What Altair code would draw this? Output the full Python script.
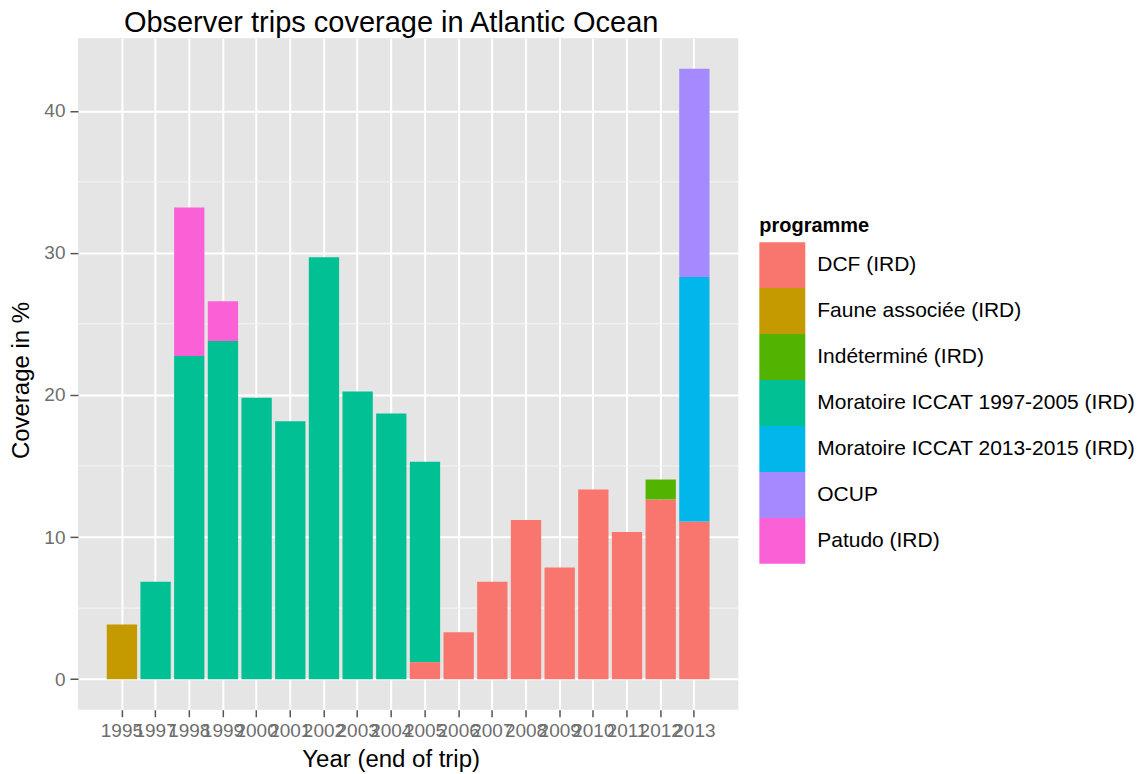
import altair as alt
import pandas as pd

years = ["1995", "1997", "1998", "1999", "2000", "2001", "2002", "2003", "2004",
         "2005", "2006", "2007", "2008", "2009", "2010", "2011", "2012", "2013"]

programmes = ["DCF (IRD)", "Faune associée (IRD)", "Indéterminé (IRD)",
              "Moratoire ICCAT 1997-2005 (IRD)", "Moratoire ICCAT 2013-2015 (IRD)",
              "OCUP", "Patudo (IRD)"]
colors = ["#F8766D", "#C49A00", "#53B400", "#00C094", "#00B6EB", "#A58AFF", "#FB61D7"]

# coverage (%) per programme, aligned with years (None = no trips)
dcf = [None] * 9 + [1.2, 3.3, 6.85, 11.2, 7.85, 13.35, 10.35, 12.65, 11.1]
faune = [3.85] + [None] * 17
indet = [None] * 16 + [1.4, None]
mor97 = [None, 6.85, 22.75, 23.8, 19.8, 18.15, 29.7, 20.25, 18.7, 14.1] + [None] * 8
mor13 = [None] * 17 + [17.2]
ocup = [None] * 17 + [14.65]
patudo = [None, None, 10.45, 2.8] + [None] * 14

y_ticks = [0, 10, 20, 30, 40]
y_minor = [5, 15, 25, 35]

series = [dcf, faune, indet, mor97, mor13, ocup, patudo]
rows = []
for k, (prog, vals) in enumerate(zip(programmes, series)):
    for yr, v in zip(years, vals):
        if v is not None:
            rows.append({"year": yr, "programme": prog, "value": v, "ord": k})
df = pd.DataFrame(rows)
minor_df = pd.DataFrame({"v": y_minor})

FONT = "Liberation Sans"
yscale = alt.Scale(domain=[-2.15, 45.1], nice=False, zero=False)
yaxis = alt.Axis(values=y_ticks, title="Coverage in %", grid=True, gridColor="white",
                 gridWidth=2, domain=False, tickColor="#555555", tickSize=8,
                 tickWidth=1.5, labelFontSize=19, labelColor="#6E6E6E", labelFont=FONT,
                 labelPadding=5, titleFont=FONT, titleFontSize=24,
                 titleFontWeight="normal", titleColor="black", titleX=-56,
                 titleY=342, titleBaseline="middle")

minor = alt.Chart(minor_df).mark_rule(color="#F5F5F5", strokeWidth=1).encode(
    y=alt.Y("v:Q", scale=yscale, axis=yaxis)
)

bars = alt.Chart(df).mark_bar().encode(
    x=alt.X("year:N", sort=years,
            scale=alt.Scale(paddingInner=0.1, paddingOuter=0.856),
            axis=alt.Axis(title="Year (end of trip)", labelAngle=0, labelOverlap=False,
                          bandPosition=0.5, grid=True, gridColor="white", gridWidth=2,
                          domain=False, tickColor="#555555", tickSize=7, tickWidth=1.5,
                          labelFontSize=19, labelColor="#6E6E6E", labelFont=FONT,
                          labelPadding=5, titleFont=FONT, titleFontSize=24,
                          titleFontWeight="normal", titleColor="black",
                          titleX=313, titleY=50, titleBaseline="middle")),
    y=alt.Y("value:Q", stack="zero", scale=yscale, axis=yaxis),
    color=alt.Color("programme:N",
                    scale=alt.Scale(domain=programmes, range=colors),
                    legend=alt.Legend(title="programme", orient="none",
                                      legendX=682, legendY=178,
                                      symbolType="square", symbolSize=2116,
                                      symbolStrokeWidth=0, symbolOpacity=1,
                                      rowPadding=0, labelOffset=12,
                                      labelFontSize=21, labelFont=FONT,
                                      labelColor="black", titleFont=FONT,
                                      titleFontSize=20, titleFontWeight="bold",
                                      titleColor="black", titlePadding=6,
                                      labelLimit=420)),
    order=alt.Order("ord:Q", sort="ascending"),
)

chart = alt.layer(minor, bars).properties(
    width=661, height=672,
    title=alt.TitleParams(text="Observer trips coverage in Atlantic Ocean",
                          font=FONT, fontSize=29, fontWeight="normal",
                          color="black", anchor="middle", dx=-17, offset=0),
    autosize="none",
    padding={"left": 70, "top": 30, "right": 396, "bottom": 66},
).configure_view(fill="#E5E5E5", strokeWidth=0)

chart.save("out.html", embed_options={"renderer": "svg", "actions": False})
